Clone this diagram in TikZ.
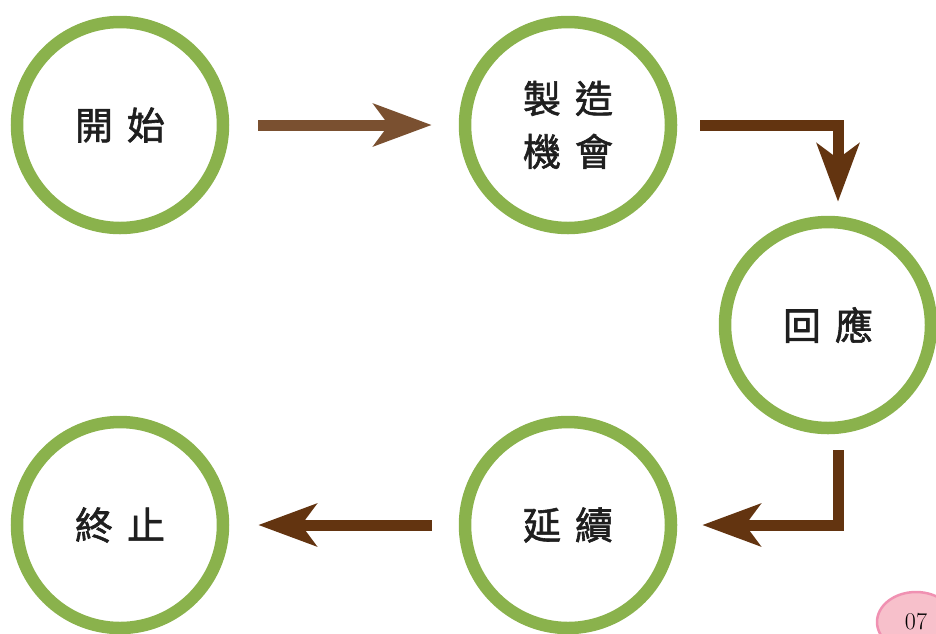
\documentclass[tikz,border=0pt]{standalone}
\usepackage{fontspec}
\newfontfamily\cjk[FakeBold=1.6]{Noto Sans CJK TC}
\usepackage{xcolor}
\definecolor{Col1}{RGB}{138,178,76}
\definecolor{Col2}{RGB}{99,52,16}
\definecolor{Col3}{RGB}{122,80,48}
\definecolor{Col4}{RGB}{247,192,203}
\definecolor{Col5}{RGB}{240,145,178}
\usepackage{tikz}
\usetikzlibrary{shapes}
\usetikzlibrary{arrows.meta}
\tikzstyle{Node}=[circle,draw=Col1,line width=12.5pt,minimum size=206pt,
inner sep=0pt,align=center,text=black!88,font=\cjk\fontsize{38}{53}\selectfont]
\tikzstyle{Edge}=[draw=Col2,line width=11pt,
-{Stealth[length=58pt,width=42pt,inset=15pt]}]
\tikzstyle{NodePage}=[ellipse,fill=Col4,draw=Col5,line width=2.5pt,
minimum width=78pt,minimum height=60pt,font=\fontsize{24}{24}\selectfont]
\newcommand{\Gap}{\hspace{14pt}}

\begin{document}
\begin{tikzpicture}[x=1pt,y=-1pt]
        \useasboundingbox(0,0)rectangle(936,633);
        \clip(0,0)rectangle(936,633);
        \node[Node](1)at(120,125){開\Gap 始};
        \node[Node](2)at(568,125){製\Gap 造\\機\Gap 會};
        \node[Node](3)at(828,325){回\Gap 應};
        \node[Node](4)at(568,525){延\Gap 續};
        \node[Node](5)at(120,525){終\Gap 止};
        \draw[Edge,draw=Col3,shorten <=29pt,shorten >=27pt](1)--(2);
        \draw[Edge,shorten <=23pt,shorten >=14pt]
            (2.east)-|([xshift=10pt]3.north);
        \draw[Edge,shorten <=16pt,shorten >=25pt]
            ([xshift=10pt]3.south)|-(4.east);
        \draw[Edge,shorten <=27pt,shorten >=29pt](4)--(5);
        \node[NodePage](p)at(916,622){07};
    \end{tikzpicture}
\end{document}
